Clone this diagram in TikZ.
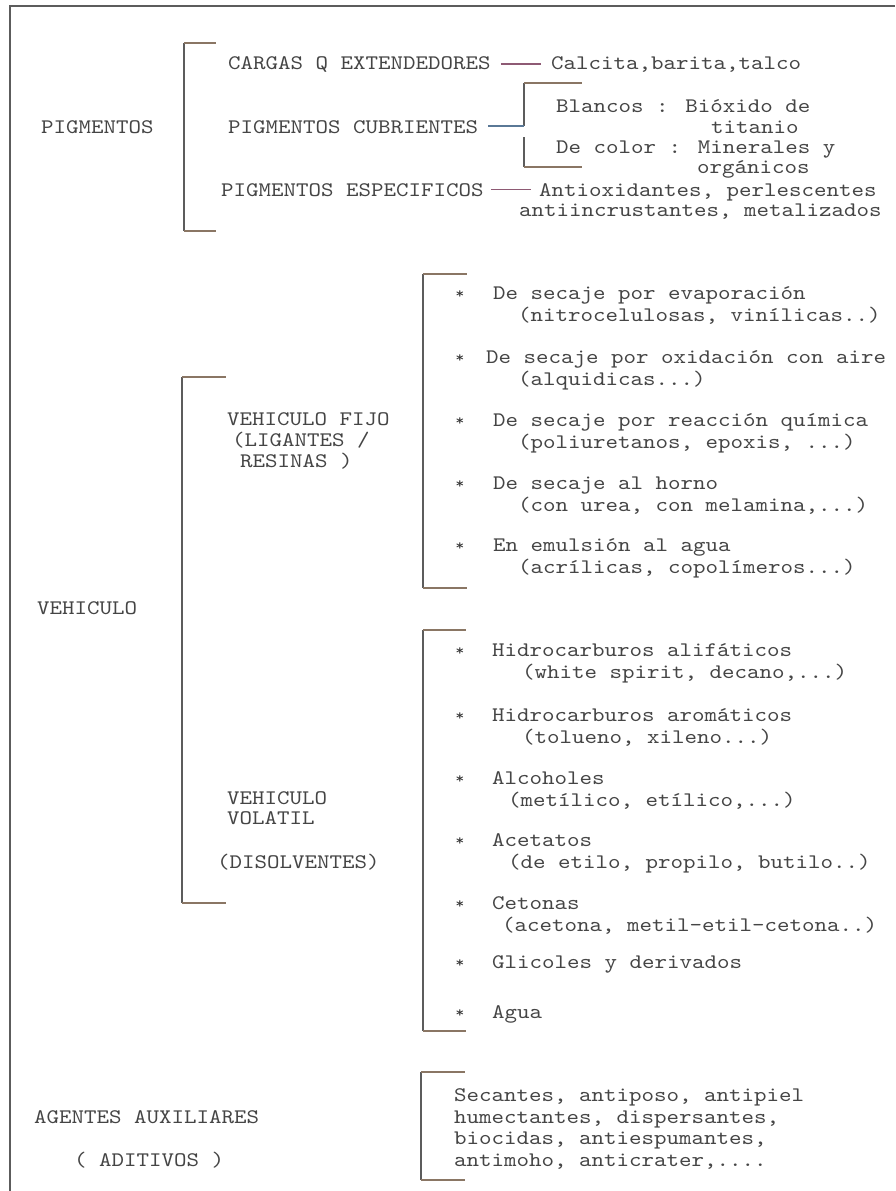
\documentclass[tikz,border=0pt]{standalone}
\usepackage{fontspec}
\usepackage{tikz}
\usetikzlibrary{positioning,calc}
\newfontfamily\maquina{lmmono10-regular.otf}[FakeStretch=1.15]
\definecolor{colTexto}{HTML}{454545}
\definecolor{colLinea}{HTML}{5c5c5c}
\definecolor{colTrazo}{HTML}{8a7664}
\definecolor{colGuion}{HTML}{8e5a74}
\definecolor{colGuionAzul}{HTML}{5a7896}
\newcommand\letra{\maquina\fontsize{20.7}{21.5}\selectfont}
\newcommand\letrita{\maquina\fontsize{15}{15}\selectfont}
\tikzset{
  texto/.style={font=\letra, text=colTexto, inner sep=0pt, anchor=base west},
  marca/.style={font=\letrita, text=black!80, inner sep=0pt, anchor=center},
  linea/.style={draw=colLinea, line width=1.6pt},
  tick/.style={draw=colTrazo, line width=1.6pt},
  guion/.style={draw=colGuion, line width=1.4pt},
  guionAzul/.style={draw=colGuionAzul, line width=1.4pt},
  marco/.style={draw=colLinea, line width=2pt},
}
% corchete: x, y arriba, y abajo, x final de los trazos
\newcommand\corchete[4]{%
  \draw[linea] (#1,#2) -- (#1,#3);
  \draw[tick] (#1,#2) -- (#4,#2);
  \draw[tick] (#1,#3) -- (#4,#3);}
\begin{document}
\begin{tikzpicture}[x=1pt, y=-1pt]
    \useasboundingbox (0,0) rectangle (895,1191);
    % Marco
    \draw[marco] (10,1191) -- (10,6) -- (895,6);

    % Pigmentos
    \node[texto] (pigmentos) at (41,133) {PIGMENTOS};
    \corchete{184}{43}{231}{216}
    \node[texto] (cargas) at (228,69) {CARGAS Q EXTENDEDORES};
    \node[texto] (calcita) at (551,69) {Calcita,barita,talco};
    \draw[guion] ([xshift=10pt]cargas.east) -- ([xshift=-10pt]calcita.west |- cargas.east);

    \node[texto] (cubrientes) at (228,133) {PIGMENTOS CUBRIENTES};
    \coordinate (cubUnion) at (524,126);
    \draw[linea] (524,83) -- (cubUnion);
    \draw[guionAzul] ([xshift=10pt]cubrientes.east |- cubUnion) -- (cubUnion);
    \draw[linea] (524,137) -- (524,167);
    \draw[tick] (524,83) -- (582,83);
    \draw[tick] (524,167) -- (582,167);
    \node[texto] (blancos) at (556,112) {Blancos : Bióxido de};
    \node[texto] (titanio) at (711,133) {titanio};
    \node[texto] (decolor) at (556,153) {De color : Minerales y};
    \node[texto] (organicos) at (697,173) {orgánicos};

    \node[texto] (especificos) at (221,196) {PIGMENTOS ESPECIFICOS};
    \node[texto] (antiox) at (539,196) {Antioxidantes, perlescentes};
    \node[texto] (metal) at (519,216) {antiincrustantes, metalizados};
    \draw[guion] ([xshift=7pt]especificos.east) -- ([xshift=-8pt]antiox.west |- especificos.east);

    % Vehiculo
    \node[texto] (vehiculo) at (37,614) {VEHICULO};
    \corchete{182}{377}{903}{226}

    % Vehiculo fijo
    \node[texto] (fijo1) at (227,425) {VEHICULO FIJO};
    \node[texto] (fijo2) at (232,446) {(LIGANTES /};
    \node[texto] (fijo3) at (240,467) {RESINAS )};
    \corchete{423}{274}{588}{467}
    \foreach \x/\y/\ind/\tit/\sub [count=\i] in {
        493/299/25/{De secaje por evaporación}/{(nitrocelulosas, vinílicas..)},
        486/363/32/{De secaje por oxidación con aire}/{(alquidicas...)},
        493/426/25/{De secaje por reacción química}/{(poliuretanos, epoxis, ...)},
        493/489/25/{De secaje al horno}/{(con urea, con melamina,...)},
        493/551/25/{En emulsión al agua}/{(acrílicas, copolímeros...)}}
    {
        \node[marca] (estF\i) at (460,\y-4) {*};
        \node[texto] (itemF\i) at (\x,\y) {\tit};
        \node[texto] (subF\i) at (\x+\ind,\y+22) {\sub};
    }

    % Vehiculo volatil
    \node[texto] (volatil1) at (227,804) {VEHICULO};
    \node[texto] (volatil2) at (227,824) {VOLATIL};
    \node[texto] (disolventes) at (217,868) {(DISOLVENTES)};
    \corchete{423}{630}{1031}{466}
    \foreach \y/\ind/\tit/\sub [count=\i] in {
        656/30/{Hidrocarburos alifáticos}/{(white spirit, decano,...)},
        721/30/{Hidrocarburos aromáticos}/{(tolueno, xileno...)},
        784/16/{Alcoholes}/{(metílico, etílico,...)},
        846/16/{Acetatos}/{(de etilo, propilo, butilo..)},
        909/10/{Cetonas}/{(acetona, metil-etil-cetona..)},
        968/0/{Glicoles y derivados}/{},
        1018/0/{Agua}/{}}
    {
        \node[marca] (estV\i) at (460,\y-4) {*};
        \node[texto] (itemV\i) at (492,\y) {\tit};
        \node[texto] (subV\i) at (492+\ind,\y+22) {\sub};
    }

    % Agentes auxiliares
    \node[texto] (agentes) at (34,1123) {AGENTES AUXILIARES};
    \node[texto] (aditivos) at (74,1166) {( ADITIVOS )};
    \corchete{421}{1072}{1180}{465}
    \foreach \y/\txt [count=\i] in {
        1101/{Secantes, antiposo, antipiel},
        1123/{humectantes, dispersantes,},
        1144/{biocidas, antiespumantes,},
        1166/{antimoho, anticrater,....}}
        \node[texto] (aditivo\i) at (454,\y) {\txt};
\end{tikzpicture}
\end{document}
